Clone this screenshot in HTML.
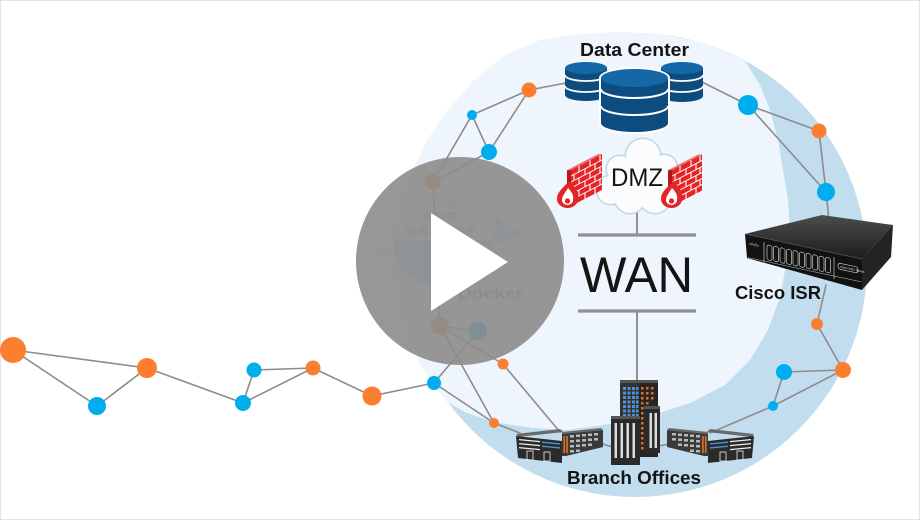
<!DOCTYPE html>
<html>
<head>
<meta charset="utf-8">
<style>
html,body{margin:0;padding:0;background:#fff;}
svg{display:block;}
text{font-family:"Liberation Sans",sans-serif;}
</style>
</head>
<body>
<svg width="920" height="520" viewBox="0 0 920 520" xmlns="http://www.w3.org/2000/svg">
<defs>
<linearGradient id="rtop" x1="0" y1="0" x2="0" y2="1">
<stop offset="0" stop-color="#4d4d4d"/>
<stop offset="1" stop-color="#1c1c1c"/>
</linearGradient>
</defs>
<rect x="0" y="0" width="920" height="520" fill="#ffffff"/>
<rect x="0.5" y="0.5" width="919" height="519" fill="none" stroke="#dfe6e9" stroke-width="1"/>

<!-- background circles -->
<circle cx="635" cy="265" r="232" fill="#c2ddee"/>
<polygon fill="#eef5fc" points="745,61 760,85 770,110 778,140 783,170 788,200 790,230 787,260 780,297 768,330 750,360 725,385 690,403 650,416 610,424 567,430 533,428 493,422 465,412 447,402 430,380 418,360 406,330 398,300 394,258 397,220 408,180 427,140 448,110 474,80 505,55 540,40 580,34 620,32 660,34 700,42 720,49"/>

<!-- connector lines -->
<g stroke="#8c8c8c" stroke-width="1.6" fill="none" stroke-linecap="round">
<line x1="13" y1="350" x2="147" y2="368"/>
<line x1="13" y1="350" x2="97" y2="406"/>
<line x1="97" y1="406" x2="147" y2="368"/>
<line x1="147" y1="368" x2="243" y2="403"/>
<line x1="243" y1="403" x2="254" y2="370"/>
<line x1="254" y1="370" x2="313" y2="368"/>
<line x1="243" y1="403" x2="313" y2="368"/>
<line x1="313" y1="368" x2="372" y2="396"/>
<line x1="372" y1="396" x2="434" y2="383"/>
<line x1="434" y1="383" x2="478" y2="331"/>
<line x1="434" y1="383" x2="494" y2="423"/>
<line x1="440" y1="326" x2="478" y2="331"/>
<line x1="440" y1="326" x2="503" y2="364"/>
<line x1="440" y1="326" x2="494" y2="423"/>
<line x1="494" y1="423" x2="520" y2="433"/>
<line x1="503" y1="364" x2="560" y2="432"/>
<line x1="433" y1="182" x2="440" y2="326"/>
<line x1="433" y1="182" x2="472" y2="115"/>
<line x1="433" y1="182" x2="489" y2="152"/>
<line x1="472" y1="115" x2="529" y2="90"/>
<line x1="472" y1="115" x2="489" y2="152"/>
<line x1="489" y1="152" x2="529" y2="90"/>
<line x1="529" y1="90" x2="566" y2="83"/>
<line x1="702" y1="82" x2="748" y2="105"/>
<line x1="748" y1="105" x2="819" y2="131"/>
<line x1="748" y1="105" x2="826" y2="192"/>
<line x1="819" y1="131" x2="826" y2="192"/>
<line x1="826" y1="192" x2="829" y2="220"/>
<line x1="826" y1="285" x2="817" y2="324"/>
<line x1="817" y1="324" x2="843" y2="370"/>
<line x1="843" y1="370" x2="784" y2="372"/>
<line x1="843" y1="370" x2="773" y2="406"/>
<line x1="784" y1="372" x2="773" y2="406"/>
<line x1="773" y1="406" x2="710" y2="433"/>
<line x1="600" y1="443" x2="612" y2="447"/>
<line x1="659" y1="446" x2="669" y2="444"/>
</g>

<!-- WAN lines -->
<g stroke="#8d9095" fill="none">
<line x1="637" y1="205" x2="637" y2="235" stroke-width="2"/>
<line x1="578" y1="235" x2="696" y2="235" stroke-width="3.2"/>
<line x1="578" y1="311" x2="696" y2="311" stroke-width="3.2"/>
<line x1="637" y1="311" x2="637" y2="383" stroke-width="2"/>
</g>

<!-- Data center cylinders -->
<g>
<path d="M565,68 L565,95 A21,6 0 0 0 607,95 L607,68 Z" fill="#0c4c7e"/>
<ellipse cx="586" cy="68" rx="21" ry="6" fill="#1468a6"/>
<path d="M565,75 A21,6 0 0 0 607,75" fill="none" stroke="#fff" stroke-width="1.8"/>
<path d="M565,86 A21,6 0 0 0 607,86" fill="none" stroke="#fff" stroke-width="1.8"/>
<path d="M661,68 L661,96 A21,6 0 0 0 703,96 L703,68 Z" fill="#0c4c7e"/>
<ellipse cx="682" cy="68" rx="21" ry="6" fill="#1468a6"/>
<path d="M661,75 A21,6 0 0 0 703,75" fill="none" stroke="#fff" stroke-width="1.8"/>
<path d="M661,86 A21,6 0 0 0 703,86" fill="none" stroke="#fff" stroke-width="1.8"/>
<path d="M599,78 A35,11 0 0 1 670,78 L670,124 A35,10 0 0 1 599,124 Z" fill="#fff"/>
<path d="M601,78 L601,123 A33.5,9 0 0 0 668,123 L668,78 Z" fill="#0c4c7e"/>
<ellipse cx="634.5" cy="78" rx="33.5" ry="9" fill="#1468a6"/>
<path d="M601,89 A33.5,9 0 0 0 668,89" fill="none" stroke="#fff" stroke-width="2"/>
<path d="M601,106 A33.5,9 0 0 0 668,106" fill="none" stroke="#fff" stroke-width="2"/>
</g>

<!-- Cloud -->
<g>
<g fill="none" stroke="#c3d7e2" stroke-width="3">
<circle cx="643" cy="156" r="17"/>
<circle cx="620" cy="169" r="13"/>
<circle cx="664" cy="168" r="13"/>
<circle cx="611" cy="190" r="14"/>
<circle cx="673" cy="190" r="13"/>
<circle cx="630" cy="198" r="15"/>
<circle cx="655" cy="198" r="15"/>
</g>
<g fill="#fafcfd">
<circle cx="643" cy="156" r="17"/>
<circle cx="620" cy="169" r="13"/>
<circle cx="664" cy="168" r="13"/>
<circle cx="611" cy="190" r="14"/>
<circle cx="673" cy="190" r="13"/>
<circle cx="630" cy="198" r="15"/>
<circle cx="655" cy="198" r="15"/>
<ellipse cx="642" cy="183" rx="30" ry="20"/>
</g>
</g>

<!-- Firewalls -->
<g transform="matrix(1,-0.516,0,1,571,170)">
<polygon points="-4,-2 0,0 0,36 -4,34" fill="#b3161c"/>
<polygon points="-4,-2 27,-2 31,0 0,0" fill="#f07070"/>
<rect x="0" y="0" width="31" height="36" fill="#e42528"/>
<g stroke="#fff" stroke-width="1.1">
<line x1="0" y1="6" x2="31" y2="6"/>
<line x1="0" y1="12" x2="31" y2="12"/>
<line x1="0" y1="18" x2="31" y2="18"/>
<line x1="0" y1="24" x2="31" y2="24"/>
<line x1="0" y1="30" x2="31" y2="30"/>
<line x1="8" y1="0" x2="8" y2="6"/><line x1="19" y1="0" x2="19" y2="6"/><line x1="29" y1="0" x2="29" y2="6"/>
<line x1="3" y1="6" x2="3" y2="12"/><line x1="14" y1="6" x2="14" y2="12"/><line x1="24" y1="6" x2="24" y2="12"/>
<line x1="8" y1="12" x2="8" y2="18"/><line x1="19" y1="12" x2="19" y2="18"/><line x1="29" y1="12" x2="29" y2="18"/>
<line x1="3" y1="18" x2="3" y2="24"/><line x1="14" y1="18" x2="14" y2="24"/><line x1="24" y1="18" x2="24" y2="24"/>
<line x1="8" y1="24" x2="8" y2="30"/><line x1="19" y1="24" x2="19" y2="30"/><line x1="29" y1="24" x2="29" y2="30"/>
<line x1="14" y1="30" x2="14" y2="36"/><line x1="24" y1="30" x2="24" y2="36"/>
</g>
</g>
<g transform="matrix(1,-0.516,0,1,672,170)">
<polygon points="-4,-2 0,0 0,36 -4,34" fill="#b3161c"/>
<polygon points="-4,-2 26,-2 30,0 0,0" fill="#f07070"/>
<rect x="0" y="0" width="30" height="36" fill="#e42528"/>
<g stroke="#fff" stroke-width="1.1">
<line x1="0" y1="6" x2="30" y2="6"/>
<line x1="0" y1="12" x2="30" y2="12"/>
<line x1="0" y1="18" x2="30" y2="18"/>
<line x1="0" y1="24" x2="30" y2="24"/>
<line x1="0" y1="30" x2="30" y2="30"/>
<line x1="8" y1="0" x2="8" y2="6"/><line x1="19" y1="0" x2="19" y2="6"/><line x1="28" y1="0" x2="28" y2="6"/>
<line x1="3" y1="6" x2="3" y2="12"/><line x1="14" y1="6" x2="14" y2="12"/><line x1="24" y1="6" x2="24" y2="12"/>
<line x1="8" y1="12" x2="8" y2="18"/><line x1="19" y1="12" x2="19" y2="18"/><line x1="28" y1="12" x2="28" y2="18"/>
<line x1="3" y1="18" x2="3" y2="24"/><line x1="14" y1="18" x2="14" y2="24"/><line x1="24" y1="18" x2="24" y2="24"/>
<line x1="8" y1="24" x2="8" y2="30"/><line x1="19" y1="24" x2="19" y2="30"/><line x1="28" y1="24" x2="28" y2="30"/>
<line x1="14" y1="30" x2="14" y2="36"/><line x1="24" y1="30" x2="24" y2="36"/>
</g>
</g>
<!-- flames -->
<g>
<path d="M569,181 C576,188 579,193 578,199 A10.5,9 0 0 1 557,199 C557,192 563,188 569,181 Z" fill="#e42528"/>
<path d="M568,188 C572,192 574,196 573,200 A5.5,5 0 0 1 562,200 C562,196 565,193 568,188 Z" fill="#fff"/>
<circle cx="567.5" cy="201" r="2.6" fill="#e42528"/>
<path d="M673,181 C680,188 683,193 682,199 A10.5,9 0 0 1 661,199 C661,192 667,188 673,181 Z" fill="#e42528"/>
<path d="M672,188 C676,192 678,196 677,200 A5.5,5 0 0 1 666,200 C666,196 669,193 672,188 Z" fill="#fff"/>
<circle cx="671.5" cy="201" r="2.6" fill="#e42528"/>
</g>

<!-- Texts -->
<text x="580" y="56" font-size="18" font-weight="bold" fill="#141414" textLength="109" lengthAdjust="spacingAndGlyphs">Data Center</text>
<text x="611" y="186" font-size="25" fill="#141414" textLength="52" lengthAdjust="spacingAndGlyphs">DMZ</text>
<text x="580" y="292" font-size="50" fill="#141414" textLength="113" lengthAdjust="spacingAndGlyphs">WAN</text>
<text x="735" y="299" font-size="18" font-weight="bold" fill="#141414" textLength="86" lengthAdjust="spacingAndGlyphs">Cisco ISR</text>
<text x="567" y="484" font-size="18" font-weight="bold" fill="#141414" textLength="134" lengthAdjust="spacingAndGlyphs">Branch Offices</text>

<!-- Nodes -->
<g fill="#fc7f30">
<circle cx="13" cy="350" r="13"/>
<circle cx="147" cy="368" r="10"/>
<circle cx="313" cy="368" r="7.5"/>
<circle cx="372" cy="396" r="9.5"/>
<circle cx="503" cy="364" r="5.5"/>
<circle cx="494" cy="423" r="5"/>
<circle cx="529" cy="90" r="7.5"/>
<circle cx="819" cy="131" r="7.5"/>
<circle cx="817" cy="324" r="6"/>
<circle cx="843" cy="370" r="8"/>
<circle cx="440" cy="326" r="9"/>
<circle cx="433" cy="182" r="8"/>
</g>
<g fill="#00adef">
<circle cx="97" cy="406" r="9"/>
<circle cx="243" cy="403" r="8"/>
<circle cx="254" cy="370" r="7.5"/>
<circle cx="434" cy="383" r="7"/>
<circle cx="478" cy="331" r="9"/>
<circle cx="472" cy="115" r="5"/>
<circle cx="489" cy="152" r="8"/>
<circle cx="748" cy="105" r="10"/>
<circle cx="826" cy="192" r="9"/>
<circle cx="784" cy="372" r="8"/>
<circle cx="773" cy="406" r="5"/>
</g>

<!-- Router -->
<g>
<polygon points="745,234 822,215 893,225 862,259" fill="url(#rtop)"/>
<polygon points="745,234 862,259 862,290 747,258" fill="#121212"/>
<polygon points="862,259 893,225 891,257 862,290" fill="#232323"/>
<line x1="745" y1="234" x2="862" y2="259" stroke="#555" stroke-width="0.8"/>
<g transform="matrix(1,0.2137,0,1,745,234)" fill="none" stroke="#e8e8e8" stroke-width="0.6">
<rect x="22" y="6" width="5" height="15" rx="2"/>
<rect x="28.5" y="6" width="5" height="15" rx="2"/>
<rect x="35" y="6" width="5" height="15" rx="2"/>
<rect x="41.5" y="6" width="5" height="15" rx="2"/>
<rect x="48" y="6" width="5" height="15" rx="2"/>
<rect x="54.5" y="6" width="5" height="15" rx="2"/>
<rect x="61" y="6" width="5" height="15" rx="2"/>
<rect x="67.5" y="6" width="5" height="15" rx="2"/>
<rect x="74" y="6" width="5" height="15" rx="2"/>
<rect x="80.5" y="6" width="5" height="15" rx="2"/>
<line x1="19" y1="4" x2="19" y2="24"/>
<line x1="89" y1="4" x2="89" y2="26"/>
<line x1="3" y1="23" x2="116" y2="23" stroke-width="0.4"/>
<rect x="93" y="9" width="20" height="6" rx="2.5"/>
<line x1="5" y1="8" x2="5" y2="10"/><line x1="7" y1="7" x2="7" y2="10"/><line x1="9" y1="8" x2="9" y2="10"/><line x1="11" y1="7" x2="11" y2="10"/><line x1="13" y1="8" x2="13" y2="10"/>
<text x="95" y="13.4" font-size="3" fill="#e8e8e8" stroke="none">Cisco 4331 Series</text>
</g>
</g>

<!-- Buildings -->
<g>
<rect x="620" y="382" width="19" height="75" fill="#333"/>
<rect x="639" y="382" width="19" height="75" fill="#262626"/>
<rect x="620" y="380" width="38" height="3" fill="#555"/>
<g fill="#4b92d6">
<rect x="623" y="387" width="3" height="3"/><rect x="627.5" y="387" width="3" height="3"/><rect x="632" y="387" width="3" height="3"/><rect x="636" y="387" width="2.5" height="3"/>
<rect x="623" y="391.5" width="3" height="3"/><rect x="627.5" y="391.5" width="3" height="3"/><rect x="632" y="391.5" width="3" height="3"/><rect x="636" y="391.5" width="2.5" height="3"/>
<rect x="623" y="396" width="3" height="3"/><rect x="627.5" y="396" width="3" height="3"/><rect x="632" y="396" width="3" height="3"/><rect x="636" y="396" width="2.5" height="3"/>
<rect x="623" y="400.5" width="3" height="3"/><rect x="627.5" y="400.5" width="3" height="3"/><rect x="632" y="400.5" width="3" height="3"/><rect x="636" y="400.5" width="2.5" height="3"/>
<rect x="623" y="405" width="3" height="3"/><rect x="627.5" y="405" width="3" height="3"/><rect x="632" y="405" width="3" height="3"/><rect x="636" y="405" width="2.5" height="3"/>
<rect x="623" y="409.5" width="3" height="3"/><rect x="627.5" y="409.5" width="3" height="3"/><rect x="632" y="409.5" width="3" height="3"/><rect x="636" y="409.5" width="2.5" height="3"/>
<rect x="623" y="414" width="3" height="3"/><rect x="627.5" y="414" width="3" height="3"/><rect x="632" y="414" width="3" height="3"/><rect x="636" y="414" width="2.5" height="3"/>
</g>
<g fill="#e0701e">
<rect x="641" y="387" width="2.5" height="2.5"/><rect x="646" y="387" width="2.5" height="2.5"/><rect x="651" y="387" width="2.5" height="2.5"/>
<rect x="641" y="392" width="2.5" height="2.5"/><rect x="646" y="392" width="2.5" height="2.5"/><rect x="651" y="392" width="2.5" height="2.5"/>
<rect x="641" y="397" width="2.5" height="2.5"/><rect x="646" y="397" width="2.5" height="2.5"/><rect x="651" y="397" width="2.5" height="2.5"/>
<rect x="641" y="402" width="2.5" height="2.5"/><rect x="646" y="402" width="2.5" height="2.5"/>
<rect x="641" y="407" width="2.5" height="2.5"/>
<rect x="641" y="412" width="2.5" height="2.5"/>
<rect x="641" y="417" width="2.5" height="2.5"/>
<rect x="641" y="422" width="2.5" height="2.5"/>
<rect x="641" y="427" width="2.5" height="2.5"/>
<rect x="641" y="432" width="2.5" height="2.5"/>
<rect x="641" y="437" width="2.5" height="2.5"/>
<rect x="641" y="442" width="2.5" height="2.5"/>
<rect x="641" y="447" width="2.5" height="2.5"/>
</g>
<rect x="644" y="408" width="16" height="45" fill="#2a2a2a"/>
<rect x="644" y="406" width="16" height="3" fill="#555"/>
<rect x="649.5" y="413" width="2.5" height="35" fill="#dcdcdc"/>
<rect x="654.5" y="413" width="2.5" height="35" fill="#dcdcdc"/>
<rect x="611" y="418" width="29" height="47" fill="#2a2a2a"/>
<rect x="611" y="416" width="29" height="3" fill="#555"/>
<rect x="614.5" y="423" width="2.5" height="35" fill="#dcdcdc"/>
<rect x="620.5" y="423" width="2.5" height="35" fill="#dcdcdc"/>
<rect x="626.5" y="423" width="2.5" height="35" fill="#dcdcdc"/>
<rect x="632.5" y="423" width="2.5" height="35" fill="#dcdcdc"/>
</g>

<g>
<polygon points="516,434 560,429 563,432 518,437" fill="#6a6a6a"/>
<polygon points="516,436 562,441 562,463 518,458" fill="#2b2b2b"/>
<g fill="#f2f2f2">
<polygon points="519,439 540,441 540,442.3 519,440.3"/>
<polygon points="519,443 540,445 540,446.3 519,444.3"/>
<polygon points="519,447 540,449 540,450.3 519,448.3"/>
</g>
<g fill="#4f94d4">
<polygon points="542,441.5 560,443.2 560,444.6 542,442.9"/>
<polygon points="542,445.5 560,447.2 560,448.6 542,446.9"/>
</g>
<rect x="527" y="451" width="6" height="9" fill="none" stroke="#eee" stroke-width="0.8"/>
<rect x="544" y="452" width="6" height="9" fill="none" stroke="#eee" stroke-width="0.8"/>
<polygon points="562,432 601,428 603,430 562,434" fill="#6a6a6a"/>
<polygon points="562,434 603,430 603,447 566,456 562,456" fill="#3a3a3a"/>
<rect x="563.5" y="436" width="1.6" height="17" fill="#e0701e"/>
<rect x="566.3" y="436" width="1.6" height="17" fill="#e0701e"/>
<g fill="#b8b8b8">
<rect x="570" y="435" width="4" height="2.5"/><rect x="576" y="434.5" width="4" height="2.5"/><rect x="582" y="434" width="4" height="2.5"/><rect x="588" y="433.5" width="4" height="2.5"/><rect x="594" y="433" width="4" height="2.5"/>
<rect x="570" y="440" width="4" height="2.5"/><rect x="576" y="439.5" width="4" height="2.5"/><rect x="582" y="439" width="4" height="2.5"/><rect x="588" y="438.5" width="4" height="2.5"/><rect x="594" y="438" width="4" height="2.5"/>
<rect x="570" y="445" width="4" height="2.5"/><rect x="576" y="444.5" width="4" height="2.5"/><rect x="582" y="444" width="4" height="2.5"/><rect x="588" y="443.5" width="4" height="2.5"/>
<rect x="570" y="450" width="4" height="2.5"/><rect x="576" y="449.5" width="4" height="2.5"/>
</g>
</g>
<g transform="matrix(-1,0,0,1,1270,0)">
<polygon points="516,434 560,429 563,432 518,437" fill="#6a6a6a"/>
<polygon points="516,436 562,441 562,463 518,458" fill="#2b2b2b"/>
<g fill="#f2f2f2">
<polygon points="519,439 540,441 540,442.3 519,440.3"/>
<polygon points="519,443 540,445 540,446.3 519,444.3"/>
<polygon points="519,447 540,449 540,450.3 519,448.3"/>
</g>
<g fill="#4f94d4">
<polygon points="542,441.5 560,443.2 560,444.6 542,442.9"/>
<polygon points="542,445.5 560,447.2 560,448.6 542,446.9"/>
</g>
<rect x="527" y="451" width="6" height="9" fill="none" stroke="#eee" stroke-width="0.8"/>
<rect x="544" y="452" width="6" height="9" fill="none" stroke="#eee" stroke-width="0.8"/>
<polygon points="562,432 601,428 603,430 562,434" fill="#6a6a6a"/>
<polygon points="562,434 603,430 603,447 566,456 562,456" fill="#3a3a3a"/>
<rect x="563.5" y="436" width="1.6" height="17" fill="#e0701e"/>
<rect x="566.3" y="436" width="1.6" height="17" fill="#e0701e"/>
<g fill="#b8b8b8">
<rect x="570" y="435" width="4" height="2.5"/><rect x="576" y="434.5" width="4" height="2.5"/><rect x="582" y="434" width="4" height="2.5"/><rect x="588" y="433.5" width="4" height="2.5"/><rect x="594" y="433" width="4" height="2.5"/>
<rect x="570" y="440" width="4" height="2.5"/><rect x="576" y="439.5" width="4" height="2.5"/><rect x="582" y="439" width="4" height="2.5"/><rect x="588" y="438.5" width="4" height="2.5"/><rect x="594" y="438" width="4" height="2.5"/>
<rect x="570" y="445" width="4" height="2.5"/><rect x="576" y="444.5" width="4" height="2.5"/><rect x="582" y="444" width="4" height="2.5"/><rect x="588" y="443.5" width="4" height="2.5"/>
<rect x="570" y="450" width="4" height="2.5"/><rect x="576" y="449.5" width="4" height="2.5"/>
</g>
</g>

<!-- Docker logo (faint, under play overlay) -->
<g opacity="0.35">
<g fill="#2a8fd0">
<rect x="447" y="199" width="10" height="10"/>
<rect x="424" y="212" width="10" height="10"/><rect x="435" y="212" width="10" height="10"/><rect x="447" y="212" width="10" height="10"/>
<rect x="406" y="226" width="10" height="10"/><rect x="418" y="226" width="10" height="10"/><rect x="430" y="226" width="10" height="10"/><rect x="442" y="226" width="10" height="10"/><rect x="454" y="226" width="10" height="10"/><rect x="466" y="226" width="8" height="10"/>
<path d="M393,240 L492,240 C490,266 465,285 431,284 C406,283 393,263 393,240 Z"/>
<path d="M490,240 C497,232 498,222 494,215 C502,218 506,226 505,233 C512,228 518,228 524,232 C518,240 505,244 490,240 Z"/>
</g>
<line x1="373" y1="252" x2="523" y2="252" stroke="#2a8fd0" stroke-width="1.5"/>
</g>
<text x="458" y="299" font-size="17" font-weight="bold" fill="#394d54" fill-opacity="0.6" textLength="65" lengthAdjust="spacingAndGlyphs">Docker</text>

<!-- Play button -->
<circle cx="460" cy="261" r="104" fill="rgb(140,140,140)" fill-opacity="0.9"/>
<polygon points="431,213 431,311 508,262" fill="#ffffff"/>
</svg>
</body>
</html>
